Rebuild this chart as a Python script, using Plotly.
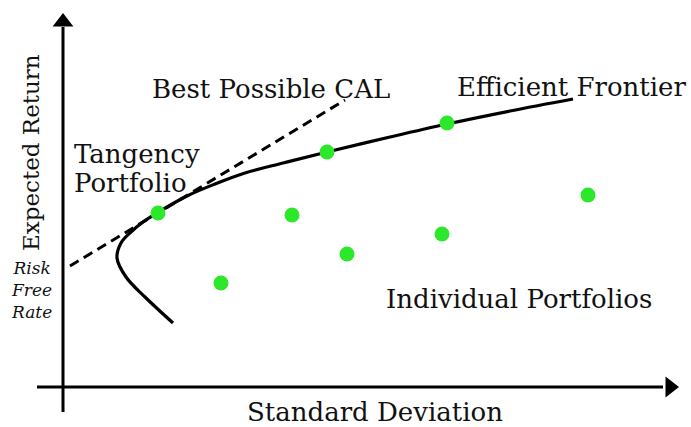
import plotly.graph_objects as go

# Units: standard deviation (%) and expected return (%)
frontier_sigma = [5.5, 4.1, 3.15, 2.7, 2.9, 3.4, 4.0, 4.7, 6.2, 7.6, 9.1, 11.0, 13.2, 16.35, 19.2, 22.35, 25.5]
frontier_return = [3.2, 4.5, 5.5, 6.45, 7.2, 7.75, 8.25, 8.7, 9.55, 10.15, 10.7, 11.2, 11.75, 12.5, 13.15, 13.8, 14.4]

cal_sigma = [0.35, 14.1]
cal_return = [6.05, 14.35]

portfolio_sigma = [4.75, 13.2, 19.2, 11.45, 14.2, 7.9, 26.25, 18.95]
portfolio_return = [8.7, 11.75, 13.2, 8.6, 6.65, 5.2, 9.6, 7.65]

x_axis_span = [-1.3, 30.0]
y_axis_span = [-1.25, 18.0]

SERIF = "DejaVu Serif, Georgia, serif"
GREEN = "#2be82b"
INK = "#111111"

fig = go.Figure()

# axes drawn as lines with triangle heads
fig.add_trace(go.Scatter(x=x_axis_span, y=[0, 0], mode="lines",
                         line=dict(color="black", width=3), hoverinfo="skip"))
fig.add_trace(go.Scatter(x=[0, 0], y=y_axis_span, mode="lines",
                         line=dict(color="black", width=3), hoverinfo="skip"))
fig.add_trace(go.Scatter(x=[30.35], y=[0], mode="markers",
                         marker=dict(symbol="triangle-right", size=18, color="black"),
                         hoverinfo="skip"))
fig.add_trace(go.Scatter(x=[0], y=[18.25], mode="markers",
                         marker=dict(symbol="triangle-up", size=18, color="black"),
                         hoverinfo="skip"))

# capital allocation line
fig.add_trace(go.Scatter(x=cal_sigma, y=cal_return, mode="lines",
                         line=dict(color="black", width=3, dash="10px,6px")))

# efficient frontier
fig.add_trace(go.Scatter(x=frontier_sigma, y=frontier_return, mode="lines",
                         line=dict(color="black", width=3.2, shape="spline", smoothing=1.0)))

# portfolios
fig.add_trace(go.Scatter(x=portfolio_sigma, y=portfolio_return, mode="markers",
                         marker=dict(color=GREEN, size=15)))

labels = [
    (10.4, 14.9, "Best Possible CAL", "center"),
    (25.45, 15.0, "Efficient Frontier", "center"),
    (22.8, 4.4, "Individual Portfolios", "center"),
    (15.6, -1.25, "Standard Deviation", "center"),
    (0.45, 11.65, "Tangency", "left"),
    (0.45, 10.2, "Portfolio", "left"),
]
for x, y, text, anchor in labels:
    fig.add_annotation(x=x, y=y, text=text, showarrow=False, xanchor=anchor,
                       font=dict(family=SERIF, size=26, color=INK))

fig.add_annotation(x=-1.6, y=11.7, text="Expected Return", showarrow=False,
                   textangle=-90, font=dict(family=SERIF, size=23, color=INK))

fig.add_annotation(x=-1.6, y=4.85, text="<i>Risk<br>Free<br>Rate</i>", showarrow=False,
                   align="center", font=dict(family=SERIF, size=17, color=INK))

fig.update_layout(
    width=691, height=427,
    margin=dict(l=0, r=0, t=0, b=0),
    paper_bgcolor="white", plot_bgcolor="white",
    showlegend=False,
    xaxis=dict(range=[-3.15, 31.4], visible=False, fixedrange=True),
    yaxis=dict(range=[-2.0, 19.35], visible=False, fixedrange=True),
)

fig.write_html("out.html", config={"displayModeBar": False},
               post_script="document.body.style.margin='0';")
